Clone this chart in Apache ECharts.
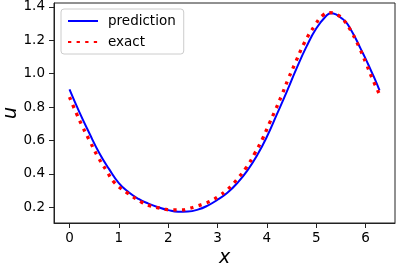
<!DOCTYPE html>
<html><head><meta charset="utf-8">
<script src="https://cdn.jsdelivr.net/npm/echarts@6/dist/echarts.min.js"></script>
<style>html,body{margin:0;padding:0;background:#fff}#c{width:399px;height:268px}</style>
</head><body><div id="c"></div>
<script>
const predX = [0, 0.2, 0.4, 0.6, 0.8, 1.0, 1.2, 1.4, 1.6, 1.8, 2.0, 2.2, 2.4, 2.6, 2.8, 3.0, 3.2, 3.4, 3.6, 3.8, 4.0, 4.2, 4.4, 4.6, 4.8, 5.0, 5.2, 5.3, 5.4, 5.5, 5.6, 5.7, 5.8, 5.9, 6.0, 6.1, 6.2, 6.283];
const predU = [0.906, 0.770, 0.645, 0.527, 0.430, 0.345, 0.290, 0.250, 0.222, 0.200, 0.183, 0.174, 0.175, 0.186, 0.210, 0.245, 0.287, 0.345, 0.418, 0.510, 0.622, 0.755, 0.890, 1.030, 1.160, 1.270, 1.345, 1.362, 1.355, 1.335, 1.310, 1.265, 1.210, 1.150, 1.090, 1.025, 0.960, 0.900];
const exactX = [0, 0.135, 0.27, 0.42, 0.574, 0.742, 0.924, 1.194, 1.464, 1.618, 1.78, 1.935, 2.10, 2.27, 2.43, 2.58, 2.73, 2.88, 3.03, 3.15, 3.28, 3.385, 3.587, 3.755, 3.91, 4.045, 4.18, 4.31, 4.43, 4.564, 4.766, 4.98, 5.124, 5.272, 5.43, 5.555, 5.73, 5.88, 6.01, 6.135, 6.283];
const exactU = [0.860, 0.766, 0.679, 0.591, 0.503, 0.423, 0.344, 0.282, 0.230, 0.210, 0.198, 0.188, 0.184, 0.184, 0.194, 0.207, 0.222, 0.240, 0.268, 0.293, 0.329, 0.363, 0.440, 0.523, 0.609, 0.699, 0.787, 0.877, 0.966, 1.056, 1.188, 1.292, 1.347, 1.365, 1.352, 1.322, 1.242, 1.152, 1.062, 0.972, 0.876];
const xTicks = [0, 1, 2, 3, 4, 5, 6];
const yTicks = [0.2, 0.4, 0.6, 0.8, 1.0, 1.2, 1.4];
const seriesNames = ['prediction', 'exact'];

const zip = (xs, ys) => xs.map((x, i) => [x, ys[i]]);
const font = 'DejaVu Sans';
const axisColor = '#222';

const chart = echarts.init(document.getElementById('c'), null, {renderer: 'canvas'});
chart.setOption({
  animation: false,
  backgroundColor: '#fff',
  grid: {left: 54, right: 4, top: 3, bottom: 45, show: true, borderColor: axisColor, borderWidth: 1,
         containLabel: false, outerBoundsMode: 'none'},
  legend: {
    data: seriesNames,
    orient: 'vertical',
    left: 61, top: 9,
    itemWidth: 30, itemHeight: 14, itemGap: 7,
    padding: [5, 8, 5, 6],
    borderColor: '#cccccc', borderWidth: 1, borderRadius: 3,
    backgroundColor: 'rgba(255,255,255,0.8)',
    itemStyle: {opacity: 0},
    textStyle: {fontFamily: font, fontSize: 13.5, color: '#000', padding: [0, 0, 0, 5]}
  },
  xAxis: {
    type: 'value', min: -0.3142, max: 6.597,
    name: 'x', nameLocation: 'middle', nameGap: 26, nameMoveOverlap: false,
    nameTextStyle: {fontFamily: font, fontStyle: 'italic', fontSize: 19, color: '#000'},
    splitLine: {show: false},
    axisLine: {show: true, onZero: false, lineStyle: {color: axisColor, width: 1}},
    axisTick: {show: true, length: 5, customValues: xTicks, lineStyle: {color: axisColor, width: 1}},
    axisLabel: {customValues: xTicks, margin: 8, fontFamily: font, fontSize: 13.5, color: '#000', formatter: v => String(v)}
  },
  yAxis: {
    type: 'value', min: 0.106, max: 1.423,
    name: 'u', nameLocation: 'middle', nameGap: 33, nameRotate: 90, nameMoveOverlap: false,
    nameTextStyle: {fontFamily: font, fontStyle: 'italic', fontSize: 19, color: '#000'},
    splitLine: {show: false},
    axisLine: {show: true, onZero: false, lineStyle: {color: axisColor, width: 1}},
    axisTick: {show: true, length: 5, customValues: yTicks, lineStyle: {color: axisColor, width: 1}},
    axisLabel: {customValues: yTicks, margin: 9, fontFamily: font, fontSize: 13.5, color: '#000', formatter: v => Number(v).toFixed(1)}
  },
  series: [
    {name: seriesNames[0], type: 'line', data: zip(predX, predU), smooth: 0.5, symbol: 'none',
     lineStyle: {color: '#0000ff', width: 2}, itemStyle: {color: '#0000ff'}},
    {name: seriesNames[1], type: 'line', data: zip(exactX, exactU), smooth: 0.5, symbol: 'none',
     lineStyle: {color: '#ff0000', width: 3.3, type: [3.3, 5.3], cap: 'butt'}, itemStyle: {color: '#ff0000'}}
  ]
});
</script></body></html>
